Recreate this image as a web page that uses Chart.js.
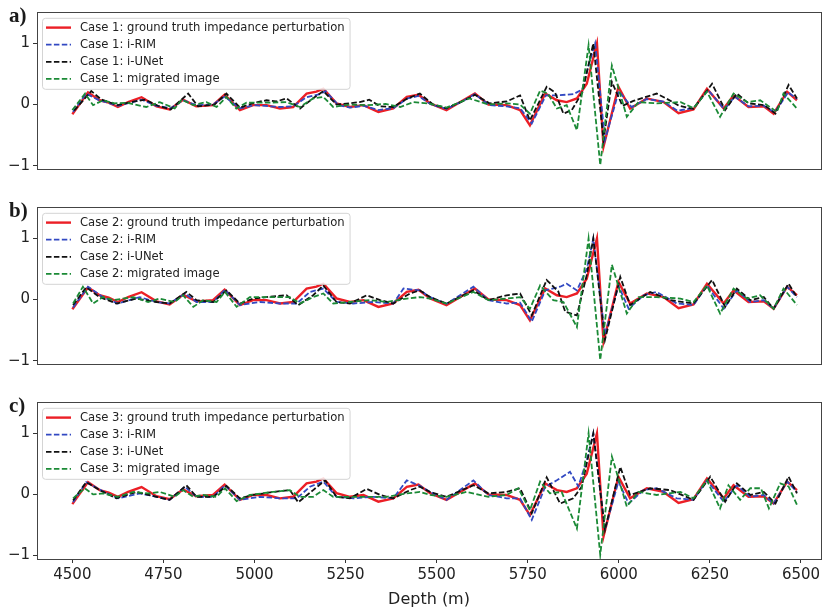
<!DOCTYPE html>
<html>
<head>
<meta charset="utf-8">
<script src="https://cdn.jsdelivr.net/npm/chart.js@4.4.1/dist/chart.umd.min.js"></script>
<style>
  body { margin: 0; background: #fff; width: 824px; height: 609px; overflow: hidden; position: relative; }
  canvas { position: absolute; left: 0; }
  .tag { position: absolute; left: 9px; font: bold 21px "Liberation Serif", serif; line-height: 21px; color: #1a1a1a; }
</style>
</head>
<body>
<canvas id="chartA" width="824" height="175" style="top:0"></canvas>
<canvas id="chartB" width="824" height="175" style="top:195px"></canvas>
<canvas id="chartC" width="824" height="219" style="top:390px"></canvas>
<div class="tag" style="top:4.5px">a)</div>
<div class="tag" style="top:199.5px">b)</div>
<div class="tag" style="top:394.5px">c)</div>
<script>
// axis ticks
const xTicks = [4500, 4750, 5000, 5250, 5500, 5750, 6000, 6250, 6500];
const yTicks = [-1, 0, 1];

// ground truth impedance perturbation (same in all three cases)
const depthTruth = [4500,4543,4575,4600,4625,4653,4690,4731,4767,4804,4840,4886,4918,4960,4996,5033,5070,5106,5143,5170,5189,5225,5262,5299,5340,5381,5418,5450,5482,5527,5573,5605,5642,5692,5729,5756,5798,5830,5857,5885,5912,5940,5958,5999,6031,6077,6123,6164,6205,6242,6288,6315,6356,6398,6425,6462,6489];
const truth = [-0.16,0.2,0.07,0.03,-0.04,0.04,0.12,-0.03,-0.08,0.08,-0.03,-0.01,0.16,-0.09,-0.01,-0.01,-0.065,-0.04,0.18,0.21,0.26,0.02,-0.04,-0.01,-0.12,-0.065,0.125,0.16,0.02,-0.09,0.07,0.18,0.0,-0.01,-0.09,-0.34,0.18,0.07,0.04,0.1,0.34,1.0,-0.69,0.29,-0.065,0.1,0.04,-0.14,-0.08,0.26,-0.065,0.15,-0.04,-0.03,-0.15,0.21,0.07];

// case 1
const depthRim1 = [4502,4538,4570,4625,4660,4690,4731,4770,4804,4840,4886,4918,4960,5000,5070,5106,5143,5180,5195,5230,5262,5300,5340,5381,5420,5450,5485,5527,5573,5605,5645,5692,5729,5761,5800,5830,5876,5900,5915,5935,5962,6000,6035,6077,6123,6160,6205,6245,6290,6318,6356,6398,6428,6465,6489];
const rim1 = [-0.12,0.18,0.08,-0.02,0.03,0.08,-0.02,-0.06,0.07,-0.01,0.0,0.13,-0.06,-0.01,-0.04,-0.03,0.12,0.17,0.22,-0.01,-0.05,-0.02,-0.09,-0.06,0.1,0.14,0.0,-0.07,0.06,0.17,-0.01,-0.03,-0.06,-0.31,0.15,0.15,0.17,0.25,0.6,1.0,-0.58,0.22,-0.04,0.09,0.05,-0.1,-0.06,0.24,-0.08,0.13,-0.03,-0.02,-0.13,0.2,0.09];
const depthUnet1 = [4505,4552,4580,4625,4660,4700,4735,4770,4818,4845,4890,4923,4960,5000,5033,5060,5088,5125,5160,5189,5225,5260,5289,5315,5345,5380,5420,5454,5490,5527,5573,5605,5645,5692,5729,5756,5802,5825,5848,5871,5900,5930,5958,5981,6010,6040,6104,6130,6165,6205,6256,6292,6324,6356,6400,6430,6466,6489];
const unet1 = [-0.1,0.22,0.08,-0.01,0.04,0.08,-0.02,-0.08,0.18,-0.03,0.0,0.18,-0.05,0.03,0.07,0.05,0.1,-0.065,0.1,0.22,0.0,0.02,0.04,0.08,-0.03,-0.04,0.1,0.18,0.0,-0.06,0.06,0.16,0.02,0.05,0.15,-0.26,0.29,0.2,-0.15,-0.09,0.2,1.0,-0.58,0.37,-0.02,0.06,0.18,0.1,-0.02,-0.07,0.34,-0.09,0.18,0.02,-0.01,-0.15,0.32,0.1];
const depthMig1 = [4500,4535,4557,4584,4616,4650,4703,4740,4781,4800,4832,4868,4896,4923,4950,4978,5030,5088,5125,5161,5189,5216,5260,5310,5360,5400,5436,5475,5527,5590,5642,5692,5729,5756,5784,5805,5830,5857,5885,5917,5949,5981,6022,6054,6104,6170,6205,6242,6278,6315,6352,6388,6434,6452,6489];
const mig1 = [-0.09,0.18,-0.01,0.07,0.02,0.03,-0.04,0.04,-0.065,0.08,-0.01,0.04,-0.04,0.125,-0.065,0.03,0.03,0.04,-0.04,0.1,0.125,-0.04,0.0,-0.01,0.01,-0.04,0.04,0.02,-0.05,0.1,0.0,0.02,0.0,-0.15,0.23,0.18,-0.065,-0.01,-0.42,0.97,-0.99,0.64,-0.2,0.04,0.02,0.04,-0.06,0.21,-0.2,0.18,0.04,0.07,-0.12,0.18,-0.065];

// case 2
const depthRim2 = [4502,4543,4584,4625,4685,4731,4767,4809,4841,4887,4919,4960,5015,5070,5116,5152,5189,5225,5271,5326,5381,5409,5454,5482,5527,5601,5642,5692,5729,5761,5798,5839,5857,5885,5912,5930,5962,5999,6027,6068,6104,6159,6205,6242,6288,6324,6361,6398,6425,6462,6489];
const rim2 = [-0.13,0.21,0.04,-0.065,0.04,-0.04,-0.065,0.1,-0.04,-0.04,0.16,-0.09,-0.04,-0.065,-0.065,0.125,0.18,-0.04,-0.065,-0.04,-0.065,0.18,0.15,0.04,-0.07,0.21,-0.01,-0.065,-0.05,-0.36,0.15,0.21,0.26,0.15,0.5,1.0,-0.58,0.23,-0.15,0.07,0.125,-0.065,-0.09,0.23,-0.15,0.15,-0.04,-0.01,-0.15,0.21,0.04];
const depthUnet2 = [4502,4538,4575,4621,4676,4731,4767,4813,4841,4887,4923,4960,4996,5033,5088,5120,5161,5189,5225,5262,5308,5345,5381,5427,5454,5482,5527,5601,5642,5692,5729,5761,5802,5834,5853,5885,5912,5930,5962,6004,6031,6086,6141,6205,6256,6292,6324,6361,6398,6425,6466,6489];
const unet2 = [-0.09,0.2,0.04,-0.065,0.016,-0.04,-0.065,0.125,-0.01,-0.04,0.15,-0.065,0.016,0.04,0.07,-0.09,0.07,0.23,-0.04,-0.065,0.07,-0.01,-0.065,0.1,0.15,0.04,-0.065,0.15,-0.01,0.07,0.1,-0.26,0.32,0.13,-0.2,-0.26,0.4,1.0,-0.66,0.37,-0.09,0.125,-0.01,-0.065,0.32,-0.12,0.18,-0.01,0.04,-0.15,0.26,0.04];
const depthMig2 = [4502,4529,4557,4584,4612,4667,4708,4740,4781,4804,4832,4859,4896,4919,4951,4987,5051,5097,5125,5161,5189,5216,5262,5317,5363,5418,5454,5482,5527,5601,5642,5692,5729,5756,5784,5820,5848,5885,5917,5949,5981,6022,6054,6104,6169,6205,6242,6278,6315,6352,6388,6425,6452,6489];
const mig2 = [-0.065,0.21,-0.065,0.04,-0.01,0.04,-0.04,0.016,-0.04,0.07,-0.12,-0.01,-0.04,0.125,-0.12,0.04,0.04,0.04,-0.065,0.04,0.1,-0.065,-0.04,-0.01,-0.04,0.016,0.04,0.016,-0.065,0.125,-0.01,0.016,0.04,-0.15,0.23,-0.01,-0.04,-0.45,1.0,-0.99,0.57,-0.23,0.04,0.04,0.016,-0.04,0.23,-0.23,0.18,0.016,0.07,-0.15,0.18,-0.09];

// case 3
const depthRim3 = [4502,4538,4584,4625,4685,4731,4767,4809,4841,4887,4919,4960,5015,5070,5116,5152,5189,5225,5271,5326,5381,5418,5454,5482,5527,5601,5642,5692,5729,5761,5798,5830,5866,5889,5912,5930,5962,5999,6027,6068,6104,6159,6205,6242,6288,6324,6361,6398,6425,6462,6489];
const rim3 = [-0.13,0.2,0.05,-0.065,0.016,-0.04,-0.09,0.125,-0.04,-0.04,0.15,-0.09,-0.04,-0.065,-0.065,0.125,0.21,-0.04,-0.065,-0.04,-0.065,0.23,0.14,0.04,-0.09,0.23,-0.01,-0.065,-0.065,-0.42,0.125,0.23,0.37,0.13,0.56,1.0,-0.58,0.21,-0.15,0.07,0.1,-0.065,-0.09,0.23,-0.12,0.15,-0.04,-0.01,-0.15,0.21,0.04];
const depthUnet3 = [4502,4538,4575,4621,4676,4731,4767,4813,4841,4887,4923,4960,4996,5051,5097,5120,5161,5194,5225,5262,5308,5345,5381,5427,5454,5482,5527,5601,5642,5692,5729,5761,5802,5839,5875,5898,5930,5962,6004,6031,6086,6141,6205,6251,6292,6324,6361,6398,6430,6466,6489];
const unet3 = [-0.1,0.2,0.07,-0.065,0.04,-0.04,-0.09,0.15,-0.04,-0.04,0.14,-0.065,-0.01,0.04,0.07,-0.13,0.07,0.23,-0.04,-0.065,0.09,-0.01,-0.065,0.07,0.125,0.04,-0.04,0.15,0.016,0.04,0.1,-0.31,0.28,-0.15,-0.065,0.125,1.0,-0.58,0.45,-0.01,0.1,0.07,-0.09,0.29,-0.12,0.18,-0.01,0.04,-0.15,0.29,0.016];
const depthMig3 = [4502,4534,4557,4584,4625,4667,4708,4740,4781,4804,4832,4859,4896,4919,4951,4987,5051,5097,5125,5161,5189,5216,5262,5317,5363,5418,5454,5482,5527,5582,5642,5692,5724,5756,5784,5811,5843,5885,5917,5949,5981,6022,6054,6104,6169,6205,6242,6278,6301,6333,6361,6390,6412,6443,6466,6489];
const mig3 = [-0.065,0.1,0.0,0.016,-0.04,0.04,0.016,0.04,-0.04,0.07,-0.04,-0.01,-0.04,0.1,-0.11,-0.01,0.04,0.07,-0.04,-0.04,0.07,-0.04,-0.04,-0.04,-0.04,0.016,0.04,-0.01,-0.04,0.04,-0.04,-0.01,0.1,-0.26,0.21,0.016,0.04,-0.56,1.0,-0.99,0.62,-0.2,0.04,-0.01,0.04,-0.065,0.23,-0.23,0.15,-0.09,0.1,0.1,-0.23,0.18,0.13,-0.17];

const FONT = 'DejaVu Sans';
const DASH = [5.5, 2.4];

function pts(depth, vals) {
  return depth.map((d, i) => ({ x: d, y: vals[i] }));
}

// frame round the plot area + legend in the upper left corner
const framePlugin = {
  id: 'frameLegend',
  afterDraw(chart) {
    const { ctx, chartArea: a } = chart;
    ctx.save();
    ctx.strokeStyle = '#444';
    ctx.lineWidth = 1;
    ctx.strokeRect(Math.round(a.left) + 0.5, Math.round(a.top) + 0.5, Math.round(a.right - a.left), Math.round(a.bottom - a.top));

    const sets = chart.data.datasets;
    ctx.font = '11.6px "' + FONT + '"';
    const tw = Math.max(...sets.map(d => ctx.measureText(d.label).width));
    const x0 = a.left + 5, y0 = a.top + 5.5, bw = tw + 43, bh = 71;
    ctx.beginPath();
    ctx.roundRect(x0 + 0.5, y0 + 0.5, bw, bh, 3);
    ctx.fillStyle = 'rgba(255,255,255,0.85)';
    ctx.fill();
    ctx.strokeStyle = '#d4d4d4';
    ctx.stroke();
    sets.forEach((d, i) => {
      const y = y0 + 9.8 + i * 17.1;
      ctx.beginPath();
      ctx.setLineDash(d.borderDash || []);
      ctx.strokeStyle = d.borderColor;
      ctx.lineWidth = d.borderWidth;
      ctx.moveTo(x0 + 4, y);
      ctx.lineTo(x0 + 29, y);
      ctx.stroke();
      ctx.setLineDash([]);
      ctx.fillStyle = '#222';
      ctx.textBaseline = 'middle';
      ctx.fillText(d.label, x0 + 38, y + 0.5);
    });
    ctx.restore();
  }
};

function makePanel(id, n, rim, unet, mig, showX) {
  const datasets = [
    { label: 'Case ' + n + ': ground truth impedance perturbation', data: pts(depthTruth, truth), borderColor: '#ec1f26', borderWidth: 2.4, borderDash: [], order: 3 },
    { label: 'Case ' + n + ': i-RIM', data: pts(rim[0], rim[1]), borderColor: '#3249c2', borderWidth: 1.8, borderDash: DASH, order: 2 },
    { label: 'Case ' + n + ': i-UNet', data: pts(unet[0], unet[1]), borderColor: '#111111', borderWidth: 1.8, borderDash: DASH, order: 1 },
    { label: 'Case ' + n + ': migrated image', data: pts(mig[0], mig[1]), borderColor: '#1b8a36', borderWidth: 1.8, borderDash: DASH, order: 0 }
  ];
  datasets.forEach(d => { d.pointRadius = 0; d.tension = 0; d.fill = false; });

  const tickFont = { family: FONT, size: 15 };
  const x = showX ? {
    type: 'linear', min: 4403, max: 6555,
    afterBuildTicks: s => { s.ticks = xTicks.map(v => ({ value: v })); },
    afterFit: s => { s.height = 50; s.paddingLeft = 0; s.paddingRight = 0; },
    ticks: { font: tickFont, color: '#222', padding: 3, autoSkip: false, maxRotation: 0, callback: v => String(v) },
    grid: { drawOnChartArea: false, drawTicks: true, tickLength: 4, color: '#333' },
    border: { display: false },
    title: { display: true, text: 'Depth (m)', font: { family: FONT, size: 16 }, color: '#222', padding: { top: 0, bottom: 0 } }
  } : { type: 'linear', min: 4403, max: 6555, display: false };

  return new Chart(document.getElementById(id), {
    type: 'line',
    data: { datasets },
    options: {
      responsive: false,
      animation: false,
      devicePixelRatio: 1,
      layout: { padding: { left: 0, right: 3, top: 12.3, bottom: showX ? 0 : 5.7 } },
      plugins: { legend: { display: false }, tooltip: { enabled: false } },
      scales: {
        x,
        y: {
          min: -1.06, max: 1.51,
          afterBuildTicks: s => { s.ticks = yTicks.map(v => ({ value: v })); },
          afterFit: s => { s.width = 37; s.paddingTop = 0; s.paddingBottom = 0; },
          ticks: { font: tickFont, color: '#222', padding: 3, callback: v => v < 0 ? '\u2212' + Math.abs(v) : String(v) },
          grid: { drawOnChartArea: false, drawTicks: true, tickLength: 4, color: '#333' },
          border: { display: false }
        }
      }
    },
    plugins: [framePlugin]
  });
}

makePanel('chartA', 1, [depthRim1, rim1], [depthUnet1, unet1], [depthMig1, mig1], false);
makePanel('chartB', 2, [depthRim2, rim2], [depthUnet2, unet2], [depthMig2, mig2], false);
makePanel('chartC', 3, [depthRim3, rim3], [depthUnet3, unet3], [depthMig3, mig3], true);
</script>
</body>
</html>
